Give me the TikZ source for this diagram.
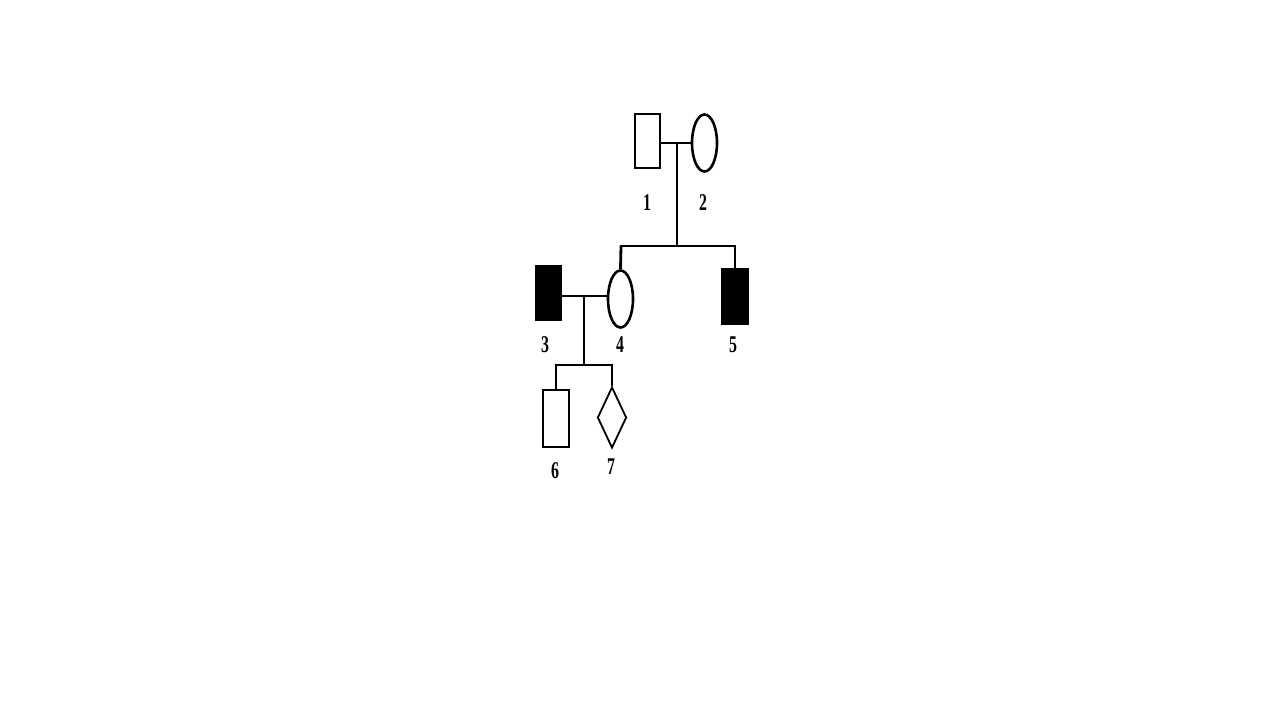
\documentclass[tikz,border=0pt]{standalone}
\usepackage{fontspec}
\setmainfont{Liberation Serif}
\usetikzlibrary{shapes.geometric}
\begin{document}
\begin{tikzpicture}[x=1pt,y=-1pt,
  male/.style={draw,rectangle,inner sep=0pt,minimum width=25pt,minimum height=54pt,line width=2.6pt},
  female/.style={draw,ellipse,inner sep=0pt,minimum width=25pt,minimum height=57pt,line width=2.6pt},
  unknown/.style={draw,diamond,inner sep=0pt,minimum width=29pt,minimum height=61pt,line width=1.8pt},
  affected/.style={fill=black},
  lab/.style={inner sep=0pt,font=\fontsize{24}{24}\selectfont\bfseries,xscale=0.66},
  conn/.style={line width=2.8pt}]
\useasboundingbox (0,0) rectangle (1280,720);
% generation I
\node[male] (n1) at (647.5,141) {};
\node[female] (n2) at (704.5,143) {};
\node[lab] (l1) at (647,203) {1};
\node[lab] (l2) at (703,203) {2};
% generation II
\node[male,affected] (n3) at (548.5,293) {};
\node[female] (n4) at (620.5,299) {};
\node[male,affected] (n5) at (735,296.5) {};
\node[lab] (l3) at (545,345) {3};
\node[lab] (l4) at (620,345) {4};
\node[lab] (l5) at (733,345) {5};
% generation III
\node[male,minimum width=26pt,minimum height=57pt] (n6) at (556,418.5) {};
\node[unknown] (n7) at (612,417.5) {};
\node[lab] (l6) at (555,471) {6};
\node[lab] (l7) at (611,467) {7};
% coordinates
\coordinate (m12) at (677,143);
\coordinate (s1) at (677,246);
\coordinate (s1l) at (621,246);
\coordinate (s1r) at (735,246);
\coordinate (m34) at (584,296);
\coordinate (s2) at (584,365);
\coordinate (s2l) at (556,365);
\coordinate (s2r) at (612,365);
% connectors
\draw[conn] (n1.east |- m12) -- (n2.west |- m12);
\draw[conn] (m12) -- (s1);
\draw[conn,line cap=rect] (s1l) -- (s1r);
\draw[conn] (s1l) -- (n4.north);
\draw[conn] (s1r) -- (n5.north);
\draw[conn] (n3.east |- m34) -- (n4.west |- m34);
\draw[conn] (m34) -- (s2);
\draw[conn,line cap=rect] (s2l) -- (s2r);
\draw[conn] (s2l) -- (n6.north);
\draw[conn] (s2r) -- (n7.north);
\end{tikzpicture}
\end{document}
